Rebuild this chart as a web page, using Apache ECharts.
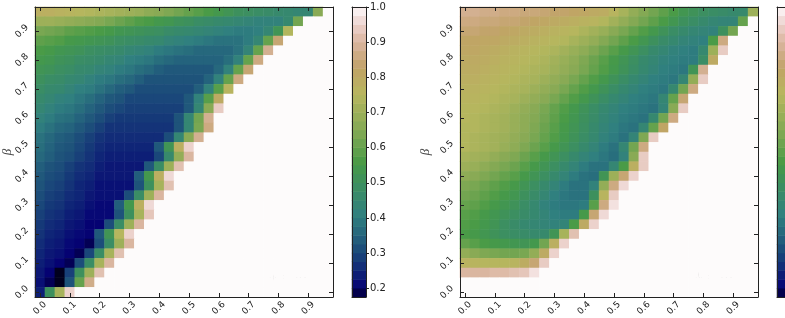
<!DOCTYPE html>
<html>
<head>
<meta charset="utf-8">
<script src="https://cdn.jsdelivr.net/npm/echarts@6/dist/echarts.min.js"></script>
<style>
  html, body { margin: 0; padding: 0; background: #fff; }
  #chart { width: 785px; height: 318px; }
</style>
</head>
<body>
<div id="chart"></div>
<script>
// cell centres, same on both axes (alpha along x, beta along y)
var gridVals = [0, 0.033, 0.067, 0.1, 0.133, 0.167, 0.2, 0.233, 0.267, 0.3,
  0.333, 0.367, 0.4, 0.433, 0.467, 0.5, 0.533, 0.567, 0.6, 0.633,
  0.667, 0.7, 0.733, 0.767, 0.8, 0.833, 0.867, 0.9, 0.933, 0.967];

var cbTicks = [0.2, 0.3, 0.4, 0.5, 0.6, 0.7, 0.8, 0.9, 1.0];
var cbLevels = [0.1875, 0.2125, 0.2375, 0.2625, 0.2875, 0.3125, 0.3375, 0.3625, 0.3875, 0.4125,
  0.4375, 0.4625, 0.4875, 0.5125, 0.5375, 0.5625, 0.5875, 0.6125, 0.6375, 0.6625,
  0.6875, 0.7125, 0.7375, 0.7625, 0.7875, 0.8125, 0.8375, 0.8625, 0.8875, 0.9125,
  0.9375, 0.9625, 0.9875];

// rows from the top (beta ~0.97) down to beta = 0, values in percent
var n20Rows = [
  [78,78,77,76,75,74,73,72,71,70,69,67,66,64,62,60,58,56,54,52,50,49,48,47,46,45,44,44,66,100],
  [70,70,69,68,67,66,65,63,61,59,57,56,54,53,51,50,48,47,46,45,44,43,42,42,42,45,62,100,100,100],
  [63,62,61,59,58,57,56,55,53,52,51,50,49,47,46,45,44,43,42,41,40,40,41,44,52,74,100,100,100,100],
  [59,58,57,55,54,53,52,51,49,48,47,46,45,43,42,41,40,39,38,38,38,40,44,60,84,100,100,100,100,100],
  [56,55,53,52,51,49,48,47,46,44,43,42,40,39,38,37,36,36,36,36,38,43,60,88,100,100,100,100,100,100],
  [54,53,51,50,48,47,46,44,43,41,40,39,37,36,35,35,35,35,35,37,42,60,86,100,100,100,100,100,100,100],
  [52,51,49,48,46,45,43,42,40,39,37,36,34,33,33,33,33,33,36,42,60,84,100,100,100,100,100,100,100,100],
  [50,48,47,45,44,42,40,39,37,36,34,32,32,32,32,32,32,35,42,60,86,100,100,100,100,100,100,100,100,100],
  [48,46,45,43,41,40,38,36,34,33,31,31,31,31,31,31,34,42,58,76,100,100,100,100,100,100,100,100,100,100],
  [46,44,42,41,39,37,35,33,32,30,30,30,30,30,30,33,42,58,80,100,100,100,100,100,100,100,100,100,100,100],
  [44,42,40,39,37,35,33,31,30,29,29,29,29,29,29,33,44,66,94,100,100,100,100,100,100,100,100,100,100,100],
  [42,40,38,37,35,33,31,29,28,28,28,28,28,28,32,44,62,88,100,100,100,100,100,100,100,100,100,100,100,100],
  [40,38,36,35,33,31,29,27,27,27,27,27,27,27,32,44,63,86,100,100,100,100,100,100,100,100,100,100,100,100],
  [38,36,34,33,31,29,27,26,26,26,26,26,26,31,44,66,88,100,100,100,100,100,100,100,100,100,100,100,100,100],
  [37,35,33,32,30,28,26,25,25,25,25,25,33,52,78,95,100,100,100,100,100,100,100,100,100,100,100,100,100,100],
  [36,34,32,31,29,27,25,24,24,24,24,24,30,46,68,90,100,100,100,100,100,100,100,100,100,100,100,100,100,100],
  [34,32,31,29,27,26,24,23,23,23,23,33,48,70,92,100,100,100,100,100,100,100,100,100,100,100,100,100,100,100],
  [33,31,30,28,26,25,23,23,23,23,34,54,78,96,100,100,100,100,100,100,100,100,100,100,100,100,100,100,100,100],
  [32,30,29,27,25,24,22,22,22,22,32,50,72,92,100,100,100,100,100,100,100,100,100,100,100,100,100,100,100,100],
  [31,29,28,26,25,23,22,22,22,31,48,70,90,100,100,100,100,100,100,100,100,100,100,100,100,100,100,100,100,100],
  [30,28,27,25,24,22,21,21,34,54,78,96,100,100,100,100,100,100,100,100,100,100,100,100,100,100,100,100,100,100],
  [29,27,26,24,23,21,21,21,32,50,72,93,100,100,100,100,100,100,100,100,100,100,100,100,100,100,100,100,100,100],
  [28,26,25,23,22,20,20,31,48,70,90,100,100,100,100,100,100,100,100,100,100,100,100,100,100,100,100,100,100,100],
  [27,25,24,22,21,20,33,52,75,95,100,100,100,100,100,100,100,100,100,100,100,100,100,100,100,100,100,100,100,100],
  [26,24,23,21,20,19,31,48,70,90,100,100,100,100,100,100,100,100,100,100,100,100,100,100,100,100,100,100,100,100],
  [25,23,22,20,19,30,48,72,92,100,100,100,100,100,100,100,100,100,100,100,100,100,100,100,100,100,100,100,100,100],
  [24,22,20,19,31,48,72,90,100,100,100,100,100,100,100,100,100,100,100,100,100,100,100,100,100,100,100,100,100,100],
  [23,20,18,29,50,70,92,100,100,100,100,100,100,100,100,100,100,100,100,100,100,100,100,100,100,100,100,100,100,100],
  [22,19,18,32,60,87,100,100,100,100,100,100,100,100,100,100,100,100,100,100,100,100,100,100,100,100,100,100,100,100],
  [24,50,72,95,100,100,100,100,100,100,100,100,100,100,100,100,100,100,100,100,100,100,100,100,100,100,100,100,100,100]
];

var n10Rows = [
  [88,88,87,87,86,86,85,85,84,83,83,82,81,80,79,76,72,68,65,62,59,56,53,51,49,48,47,46,46,70],
  [86,86,85,85,84,84,83,82,81,80,79,78,77,76,74,71,68,65,62,59,56,53,50,48,46,44,43,43,60,100],
  [84,84,83,83,82,81,80,79,78,77,76,75,73,71,69,66,63,60,57,54,51,48,46,44,43,42,50,62,100,100],
  [82,82,81,81,80,79,78,77,76,75,74,72,70,68,65,62,59,56,53,50,47,45,43,42,41,56,86,100,100,100],
  [81,81,80,79,78,77,76,75,74,73,71,69,67,64,61,58,55,52,49,46,44,42,41,40,45,70,94,100,100,100],
  [80,80,79,78,77,76,75,74,73,71,69,67,64,61,58,55,52,49,46,44,42,41,40,40,48,80,100,100,100,100],
  [79,79,78,77,76,75,74,73,72,70,68,66,63,60,57,54,51,48,45,43,41,40,39,52,88,100,100,100,100,100],
  [78,78,77,76,75,74,73,72,70,68,66,63,60,57,54,51,48,45,43,41,40,39,44,68,94,100,100,100,100,100],
  [77,77,76,75,74,73,72,70,68,66,63,60,57,54,51,48,45,43,41,40,39,45,62,86,100,100,100,100,100,100],
  [76,76,75,74,73,72,70,68,66,63,60,57,54,51,48,45,43,41,40,39,44,60,84,100,100,100,100,100,100,100],
  [75,75,74,73,72,70,68,66,63,60,57,54,51,48,45,43,41,40,39,38,43,66,94,100,100,100,100,100,100,100],
  [75,74,73,72,71,69,67,65,62,59,56,53,50,47,44,42,40,39,38,45,62,86,100,100,100,100,100,100,100,100],
  [74,74,73,72,71,69,67,64,61,58,55,52,49,46,43,41,39,38,44,60,82,100,100,100,100,100,100,100,100,100],
  [74,73,72,71,70,68,66,63,60,57,54,51,48,45,42,40,38,43,64,94,100,100,100,100,100,100,100,100,100,100],
  [74,73,72,71,69,67,64,61,58,55,52,49,46,43,40,38,44,62,86,100,100,100,100,100,100,100,100,100,100,100],
  [72,71,70,68,66,64,61,58,55,52,49,46,43,41,39,37,42,66,94,100,100,100,100,100,100,100,100,100,100,100],
  [70,69,67,65,63,61,58,55,52,49,46,43,40,38,38,44,56,78,94,100,100,100,100,100,100,100,100,100,100,100],
  [67,66,64,62,60,58,55,52,49,46,43,40,38,37,52,70,84,95,100,100,100,100,100,100,100,100,100,100,100,100],
  [64,63,61,59,57,55,52,49,46,43,40,38,38,42,68,86,96,100,100,100,100,100,100,100,100,100,100,100,100,100],
  [62,61,59,57,55,53,50,47,44,41,39,38,38,50,76,94,100,100,100,100,100,100,100,100,100,100,100,100,100,100],
  [60,59,57,55,53,51,48,45,42,40,39,39,40,58,86,97,100,100,100,100,100,100,100,100,100,100,100,100,100,100],
  [58,57,55,53,51,49,47,45,43,41,40,40,55,84,96,100,100,100,100,100,100,100,100,100,100,100,100,100,100,100],
  [57,56,54,52,49,47,45,44,43,42,43,56,80,95,100,100,100,100,100,100,100,100,100,100,100,100,100,100,100,100],
  [56,55,53,51,49,48,47,46,46,52,72,92,100,100,100,100,100,100,100,100,100,100,100,100,100,100,100,100,100,100],
  [60,58,56,55,54,53,52,54,62,78,95,100,100,100,100,100,100,100,100,100,100,100,100,100,100,100,100,100,100,100],
  [68,66,64,63,62,62,63,68,80,95,100,100,100,100,100,100,100,100,100,100,100,100,100,100,100,100,100,100,100,100],
  [77,76,75,75,75,76,79,84,94,100,100,100,100,100,100,100,100,100,100,100,100,100,100,100,100,100,100,100,100,100],
  [90,90,90,91,91,92,93,97,100,100,100,100,100,100,100,100,100,100,100,100,100,100,100,100,100,100,100,100,100,100],
  [100,100,100,100,100,100,100,100,100,100,100,100,100,100,100,100,100,100,100,100,100,100,100,100,100,100,100,100,100,100],
  [100,100,100,100,100,100,100,100,100,100,100,100,100,100,100,100,100,100,100,100,100,100,100,100,100,100,100,100,100,100]
];

// matplotlib gist_earth segment data
var gistEarth = {
  r: [[0, 0], [0.2824, 0.1882], [0.4588, 0.2714], [0.5490, 0.4719], [0.6980, 0.7176], [0.7882, 0.7553], [1, 0.9922]],
  g: [[0, 0], [0.0275, 0], [0.1098, 0.1893], [0.1647, 0.3035], [0.2078, 0.3841], [0.2824, 0.5020], [0.5216, 0.6397],
      [0.6980, 0.7171], [0.7882, 0.6392], [0.8157, 0.6549], [0.8667, 0.6991], [0.8980, 0.7430], [0.9412, 0.8275],
      [0.9647, 0.8816], [0.9961, 0.9733], [1, 0.9843]],
  b: [[0, 0], [0.0039, 0.1684], [0.0078, 0.2212], [0.0275, 0.4329], [0.0314, 0.4549], [0.2824, 0.5004],
      [0.4667, 0.2748], [0.5451, 0.3205], [0.7843, 0.3961], [0.8941, 0.6651], [1, 0.9843]]
};
function seg(pts, t) {
  for (var k = 1; k < pts.length; k++) {
    if (t <= pts[k][0]) {
      var a = pts[k - 1], b = pts[k];
      return a[1] + (b[1] - a[1]) * (t - a[0]) / (b[0] - a[0]);
    }
  }
  return pts[pts.length - 1][1];
}
var palette = [];
for (var k = 0; k <= 64; k++) {
  var t = k / 64;
  palette.push('rgb(' + Math.round(255 * seg(gistEarth.r, t)) + ',' +
    Math.round(255 * seg(gistEarth.g, t)) + ',' + Math.round(255 * seg(gistEarth.b, t)) + ')');
}

function cells(rows) {
  var out = [];
  rows.forEach(function (row, r) {
    if (row.length !== gridVals.length) throw new Error('row ' + r + ' has ' + row.length + ' cells');
    row.forEach(function (v, i) { out.push([i, rows.length - 1 - r, v / 100]); });
  });
  return out;
}

var ink = '#222';
var tickFmt = function (v) { return Number(v).toFixed(1); };

function plotX(gi, pos) {
  return {
    type: 'category', gridIndex: gi, position: pos, data: gridVals, z: 10,
    axisLine: { show: true, onZero: false, lineStyle: { color: ink, width: 1 } },
    axisTick: { show: true, inside: true, length: 4, interval: 2, alignWithLabel: true, lineStyle: { color: ink } },
    axisLabel: {
      show: pos === 'bottom', interval: 2, rotate: 45, align: 'center', verticalAlign: 'middle',
      margin: 11, fontSize: 9, fontFamily: 'DejaVu Sans', color: ink, formatter: tickFmt
    },
    splitLine: { show: false }
  };
}
function plotY(gi, pos) {
  return {
    type: 'category', gridIndex: gi, position: pos, data: gridVals, z: 10,
    axisLine: { show: true, onZero: false, lineStyle: { color: ink, width: 1 } },
    axisTick: { show: true, inside: true, length: 4, interval: 2, alignWithLabel: true, lineStyle: { color: ink } },
    axisLabel: {
      show: pos === 'left', interval: 2, rotate: 45, align: 'center', verticalAlign: 'middle',
      margin: 13, fontSize: 9, fontFamily: 'DejaVu Sans', color: ink, formatter: tickFmt
    },
    splitLine: { show: false }
  };
}
function barX(gi, pos) {
  return {
    type: 'category', gridIndex: gi, position: pos, data: ['c'], z: 10,
    axisLine: { show: true, onZero: false, lineStyle: { color: ink, width: 1 } },
    axisTick: { show: false }, axisLabel: { show: false }, splitLine: { show: false }
  };
}
function barYCat(gi) {
  return {
    type: 'category', gridIndex: gi, position: 'left', data: cbLevels, z: 10,
    axisLine: { show: true, onZero: false, lineStyle: { color: ink, width: 1 } },
    axisTick: { show: false }, axisLabel: { show: false }, splitLine: { show: false }
  };
}
function barYVal(gi) {
  return {
    type: 'value', gridIndex: gi, position: 'right', min: 0.175, max: 1.0, z: 10,
    axisLine: { show: true, onZero: false, lineStyle: { color: ink, width: 1 } },
    axisTick: { show: true, inside: false, length: 3, customValues: cbTicks, lineStyle: { color: ink } },
    axisLabel: { show: true, customValues: cbTicks, margin: 4, fontSize: 10, fontFamily: 'DejaVu Sans', color: ink, formatter: tickFmt },
    splitLine: { show: false }
  };
}

var gridBase = { top: 7, height: 290, containLabel: false, outerBoundsMode: 'none' };
function gridAt(left, width) { return Object.assign({ left: left, width: width }, gridBase); }

var heat = function (xi, yi, data) {
  return {
    type: 'heatmap', xAxisIndex: xi, yAxisIndex: yi, data: data,
    itemStyle: { borderWidth: 0 }, emphasis: { disabled: true }
  };
};

var chart = echarts.init(document.getElementById('chart'), null, { renderer: 'canvas' });
chart.setOption({
  animation: false,
  backgroundColor: '#fff',
  grid: [gridAt(35, 298), gridAt(352, 14), gridAt(460, 298), gridAt(777, 14)],
  xAxis: [plotX(0, 'bottom'), plotX(0, 'top'), barX(1, 'bottom'), barX(1, 'top'),
          plotX(2, 'bottom'), plotX(2, 'top'), barX(3, 'bottom'), barX(3, 'top')],
  yAxis: [plotY(0, 'left'), plotY(0, 'right'), barYCat(1), barYVal(1),
          plotY(2, 'left'), plotY(2, 'right'), barYCat(3), barYVal(3)],
  visualMap: {
    type: 'continuous', show: false, min: 0.175, max: 1.0,
    seriesIndex: [0, 1, 2, 3], inRange: { color: palette }
  },
  series: [
    heat(0, 0, cells(n20Rows)),
    heat(2, 2, cbLevels.map(function (v, k) { return [0, k, v]; })),
    heat(4, 4, cells(n10Rows)),
    heat(6, 6, cbLevels.map(function (v, k) { return [0, k, v]; }))
  ],
  graphic: [
    { type: 'text', x: 8, y: 152, rotation: Math.PI / 2,
      style: { text: 'β', fontSize: 13, fontStyle: 'italic', fontFamily: 'Liberation Serif', fill: '#444', align: 'center', verticalAlign: 'middle' } },
    { type: 'text', x: 426, y: 152, rotation: Math.PI / 2,
      style: { text: 'β', fontSize: 13, fontStyle: 'italic', fontFamily: 'Liberation Serif', fill: '#444', align: 'center', verticalAlign: 'middle' } },
    { type: 'text', x: 268, y: 278,
      style: { text: '{i|N}{n| = 20}', fill: '#111', verticalAlign: 'middle',
        rich: { i: { fontSize: 14, fontStyle: 'italic', fontFamily: 'Liberation Serif' }, n: { fontSize: 14, fontFamily: 'Liberation Serif' } } } },
    { type: 'text', x: 694, y: 278,
      style: { text: '{i|N}{n| = 10}', fill: '#111', verticalAlign: 'middle',
        rich: { i: { fontSize: 14, fontStyle: 'italic', fontFamily: 'Liberation Serif' }, n: { fontSize: 14, fontFamily: 'Liberation Serif' } } } }
  ]
});
</script>
</body>
</html>
